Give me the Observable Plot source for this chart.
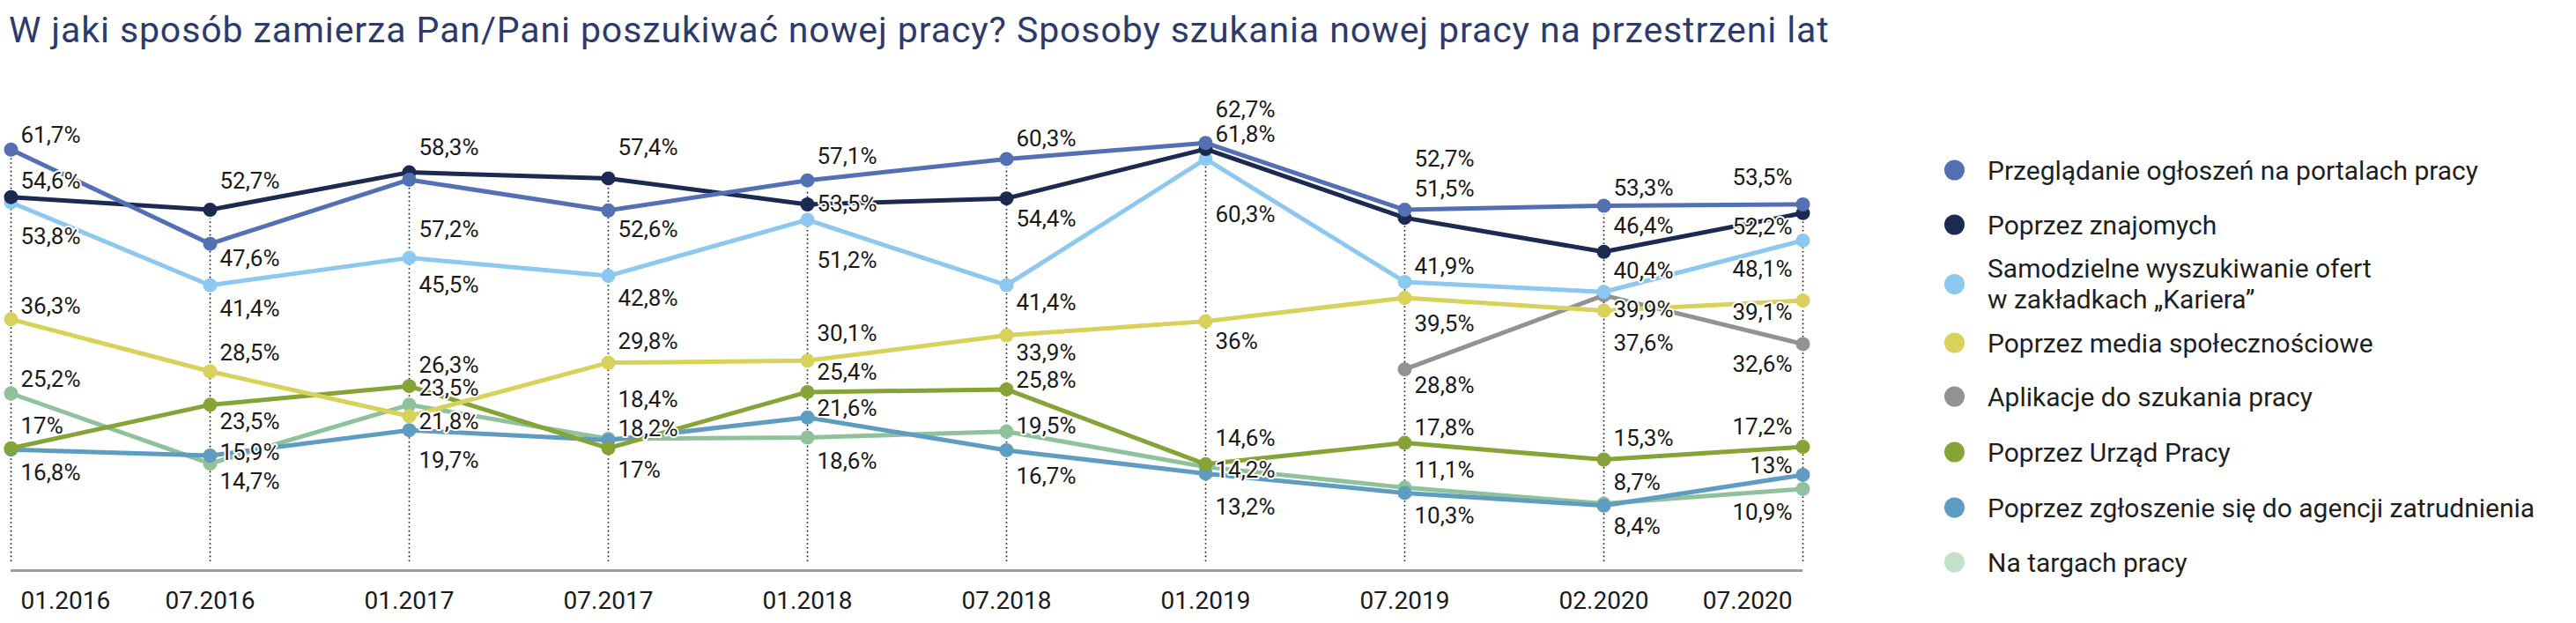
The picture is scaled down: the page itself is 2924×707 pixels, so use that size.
<!DOCTYPE html>
<html><head><meta charset="utf-8">
<script src="https://cdn.jsdelivr.net/npm/d3@7"></script>
<script src="https://cdn.jsdelivr.net/npm/@observablehq/plot@0.6"></script>
<style>
html,body{margin:0;padding:0;background:#fff;}
#wrap{position:relative;width:2924px;height:707px;overflow:hidden;font-family:Roboto,sans-serif;}
#title{position:absolute;left:10px;top:14px;font-size:41px;line-height:41px;letter-spacing:0.9px;color:#2d3a6c;white-space:nowrap;font-weight:400;}
#chart{position:absolute;left:0;top:80px;}
.leg{position:absolute;left:2207px;display:flex;align-items:center;font-size:30px;font-weight:400;color:#1f1f1f;line-height:35px;transform:translateY(-50%);white-space:pre-line;}
.leg .dot{width:23px;height:23px;border-radius:50%;margin-right:26px;flex:none;}
g[aria-label="xlab"] text{letter-spacing:-1px;}
</style></head>
<body>
<div id="wrap">
  <div id="title">W jaki sposób zamierza Pan/Pani poszukiwać nowej pracy? Sposoby szukania nowej pracy na przestrzeni lat</div>
  <div id="chart"></div>
  <div id="legend"></div>
</div>
<script>
// ---- data ----
const dates = ["01.2016","07.2016","01.2017","07.2017","01.2018","07.2018","01.2019","07.2019","02.2020","07.2020"];
const seriesNames = [
  "Przeglądanie ogłoszeń na portalach pracy",
  "Poprzez znajomych",
  "Samodzielne wyszukiwanie ofert\nw zakładkach „Kariera”",
  "Poprzez media społecznościowe",
  "Aplikacje do szukania pracy",
  "Poprzez Urząd Pracy",
  "Poprzez zgłoszenie się do agencji zatrudnienia",
  "Na targach pracy"
];
const portale     = [61.7, 47.6, 57.2, 52.6, 57.1, 60.3, 62.7, 52.7, 53.3, 53.5];
const znajomi     = [54.6, 52.7, 58.3, 57.4, 53.5, 54.4, 61.8, 51.5, 46.4, 52.2];
const samodzielne = [53.8, 41.4, 45.5, 42.8, 51.2, 41.4, 60.3, 41.9, 40.4, 48.1];
const media       = [36.3, 28.5, 21.8, 29.8, 30.1, 33.9, 36.0, 39.5, 37.6, 39.1];
const aplikacje   = [null, null, null, null, null, null, null, 28.8, 39.9, 32.6];
const urzad       = [17.0, 23.5, 26.3, 17.0, 25.4, 25.8, 14.6, 17.8, 15.3, 17.2];
const agencja     = [16.8, 15.9, 19.7, 18.2, 21.6, 16.7, 13.2, 10.3, 8.4, 13.0];
const targi       = [25.2, 14.7, 23.5, 18.4, 18.6, 19.5, 14.2, 11.1, 8.7, 10.9];

// ---- styling / layout ----
const lineColors   = ["#5470b5","#1c2a52","#8cc8ef","#d8d15a","#929292","#85a336","#5e9cc1","#8fc29c"];
const legendColors = ["#5470b5","#1c2a52","#8cc8ef","#d8d15a","#929292","#85a336","#5e9cc1","#c4e0ca"];
const legendCenters = [193, 255, 322, 389, 450, 513, 576, 638];
// vertical pixel offset of each value label relative to its point
const labelDy = [
  [-16, 17, 57, 22, -27, -23, -38, -57, -20, -30],
  [-18, -32, -28, -35, 0, 24, -16, -32, -29, 16],
  [39, 27, 31, 26, 46, 20, 63, -17, -24, 33],
  [-15, -21, 6, -24, -31, 20, 23, 30, 37, 14],
  [0, 0, 0, 0, 0, 0, 0, 18, 17, 23],
  [-25, 19, -23, 25, -22, -10, -29, -17, -24, -22],
  [27, -3, 34, -13, -10, 30, 38, 26, 24, -10],
  [-16, 21, -19, -44, 27, -6, 4, -20, -24, 27]
];

const seriesValues = [portale, znajomi, samodzielne, media, aplikacje, urzad, agencja, targi];
const rows = [];
seriesNames.forEach((s, si) => seriesValues[si].forEach((v, i) => {
  if (v != null) rows.push({series: s, date: dates[i], value: v, i, dy: labelDy[si][i]});
}));
const maxByDate = dates.map((d, i) => d3.max(seriesValues, arr => arr[i]));
const fmt = v => String(v).replace(".", ",") + "%";

const zeroY = 557, pxPer = 7.58;
const marks = [];
marks.push(Plot.ruleX(dates, {x: d => d, y1: 0, y2: (d, i) => maxByDate[i], stroke: "#1a1a1a", strokeWidth: 1.6, strokeDasharray: "1.6,3.2", insetBottom: -10}));
marks.push(Plot.ruleY([0], {x1: () => dates[0], x2: () => dates[dates.length - 1], dy: 10, stroke: "#9c9c9c", strokeWidth: 3}));
for (const s of [...seriesNames].reverse()) {
  const data = rows.filter(r => r.series === s);
  marks.push(Plot.line(data, {x: "date", y: "value", stroke: () => s, strokeWidth: 5}));
  marks.push(Plot.dot(data, {x: "date", y: "value", fill: () => s, r: 8}));
}
for (const r of rows) {
  const last = r.i === dates.length - 1;
  marks.push(Plot.text([r], {x: "date", y: "value", text: d => fmt(d.value), dy: r.dy, dx: last ? -12 : 11,
    textAnchor: last ? "end" : "start", fontSize: 26, fontWeight: 400, fill: "#1a1a1a",
    stroke: "white", strokeWidth: 4, strokeLinejoin: "round"}));
}
const axisOpts = {y: 0, dy: 45, fontSize: 28, fontWeight: 400, fill: "#1a1a1a", ariaLabel: "xlab"};
marks.push(Plot.text(dates.slice(0, 1), {x: d => d, text: d => d, textAnchor: "start", dx: 11, ...axisOpts}));
marks.push(Plot.text(dates.slice(1, -1), {x: d => d, text: d => d, textAnchor: "middle", ...axisOpts}));
marks.push(Plot.text(dates.slice(-1), {x: d => d, text: d => d, textAnchor: "end", dx: -12, ...axisOpts}));

const chart = Plot.plot({
  width: 2140, height: 627,
  marginLeft: 0, marginRight: 0, marginTop: 0, marginBottom: 0,
  x: {type: "point", domain: dates, range: [9, 2049], padding: 0, axis: null},
  y: {domain: [0, 70], range: [zeroY, zeroY - 70 * pxPer], axis: null},
  color: {domain: seriesNames, range: lineColors},
  style: {fontFamily: "Roboto, sans-serif", overflow: "visible", background: "transparent"},
  marks
});
document.getElementById("chart").appendChild(chart);

const legend = document.getElementById("legend");
seriesNames.forEach((s, i) => {
  const item = document.createElement("div");
  item.className = "leg";
  item.style.top = legendCenters[i] + "px";
  const dot = document.createElement("span");
  dot.className = "dot";
  dot.style.background = legendColors[i];
  const label = document.createElement("span");
  label.textContent = s;
  item.appendChild(dot); item.appendChild(label);
  legend.appendChild(item);
});
</script>
</body></html>
